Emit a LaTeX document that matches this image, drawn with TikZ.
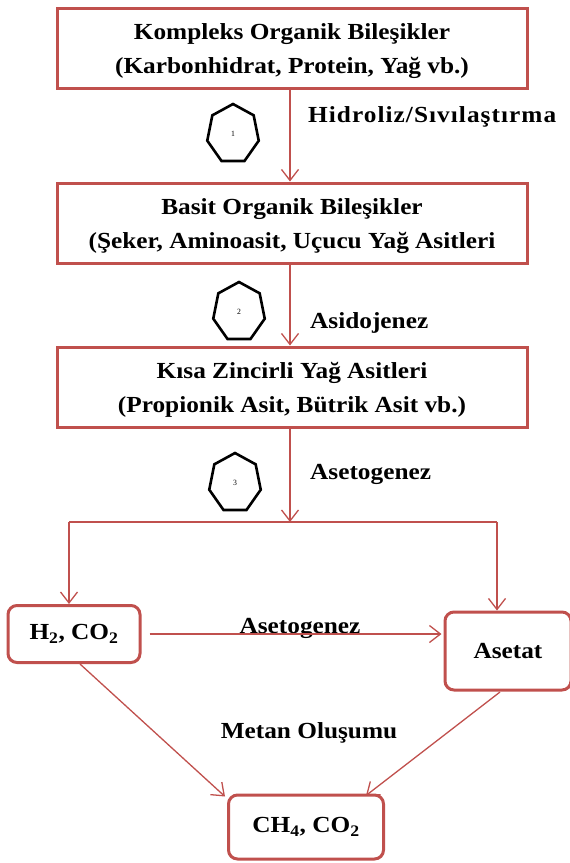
\documentclass[tikz,border=0pt]{standalone}
\usepackage{fontspec}
\setmainfont{Liberation Serif}[FakeStretch=1.1]
\usetikzlibrary{arrows.meta,shapes.geometric}
\definecolor{boxred}{RGB}{192,80,77}
\tikzset{
  mainbox/.style={draw=boxred,line width=3pt,minimum width=470pt,minimum height=80pt,inner sep=0pt},
  boxtext/.style={align=center,font=\fontsize{23}{34}\selectfont\bfseries,inner sep=0pt},
  roundbox/.style={draw=boxred,line width=3pt,rounded corners=9pt,align=center,font=\fontsize{23}{26}\selectfont\bfseries,inner sep=0pt},
  flow/.style={draw=boxred,line width=1.3pt,-{Straight Barb[length=11pt,width=17pt,line width=1.3pt]}},
  plainflow/.style={draw=boxred,line width=1.3pt},
  hepta/.style={regular polygon,regular polygon sides=7,draw=black,line width=2.6pt,minimum size=60pt,xscale=0.88,inner sep=0pt,font=\fontsize{8}{9}\selectfont},
  lab/.style={font=\fontsize{23}{26}\selectfont\bfseries,anchor=west,inner sep=0pt}
}
\begin{document}
\begin{tikzpicture}[x=1pt,y=-1pt]
\useasboundingbox (0,0) rectangle (570,863);
\node[mainbox] (b1) at (292,48) {};
\node[boxtext] (t1) at (292,51) {Kompleks Organik Bileşikler\\(Karbonhidrat, Protein, Yağ vb.)};
\node[mainbox] (b2) at (292,223) {};
\node[boxtext] (t2) at (292,226) {Basit Organik Bileşikler\\(Şeker, Aminoasit, Uçucu Yağ Asitleri};
\node[mainbox] (b3) at (292,387) {};
\node[boxtext] (t3) at (292,390) {Kısa Zincirli Yağ Asitleri\\(Propionik Asit, Bütrik Asit vb.)};
\node[hepta] (h1) at (233,134) {1};
\node[hepta] (h2) at (239,312) {2};
\node[hepta] (h3) at (235,483) {3};
\node[lab] (l1) at (308,117) {\addfontfeature{LetterSpace=4.5}Hidroliz/Sıvılaştırma};
\node[lab] (l2) at (310,323) {Asidojenez};
\node[lab] (l3) at (310,474) {Asetogenez};
\coordinate (j) at (290,522);
\coordinate (jl) at (69,522);
\coordinate (jr) at (497,522);
\node[roundbox,minimum width=132pt,minimum height=57pt] (h2co2) at (74,634) {H\textsubscript{2}, CO\textsubscript{2}};
\node[roundbox,minimum width=126pt,minimum height=78pt] (ase) at (508,651) {Asetat};
\node[roundbox,minimum width=155pt,minimum height=64pt] (ch4) at (306,827) {CH\textsubscript{4}, CO\textsubscript{2}};
\node[lab,anchor=center] (l4) at (300,628) {Asetogenez};
\node[lab,anchor=center] (l5) at (309,733) {Metan Oluşumu};
\draw[flow] (b1.south -| j) -- (b2.north -| j);
\draw[flow] (b2.south -| j) -- (b3.north -| j);
\draw[flow] (b3.south -| j) -- (j);
\draw[plainflow] (jl) -- (jr);
\draw[flow] (jl) -- (h2co2.north -| jl);
\draw[flow] (jr) -- (ase.north -| jr);
\draw[flow] ([xshift=8pt]h2co2.east) -- ([xshift=-2pt]ase.west |- h2co2.east);
\draw[flow] (80,664) -- ([xshift=-2pt,yshift=-3pt]ch4.north west);
\draw[flow] (500,692) -- ([xshift=-19pt,yshift=-2pt]ch4.north east);
\end{tikzpicture}
\end{document}
